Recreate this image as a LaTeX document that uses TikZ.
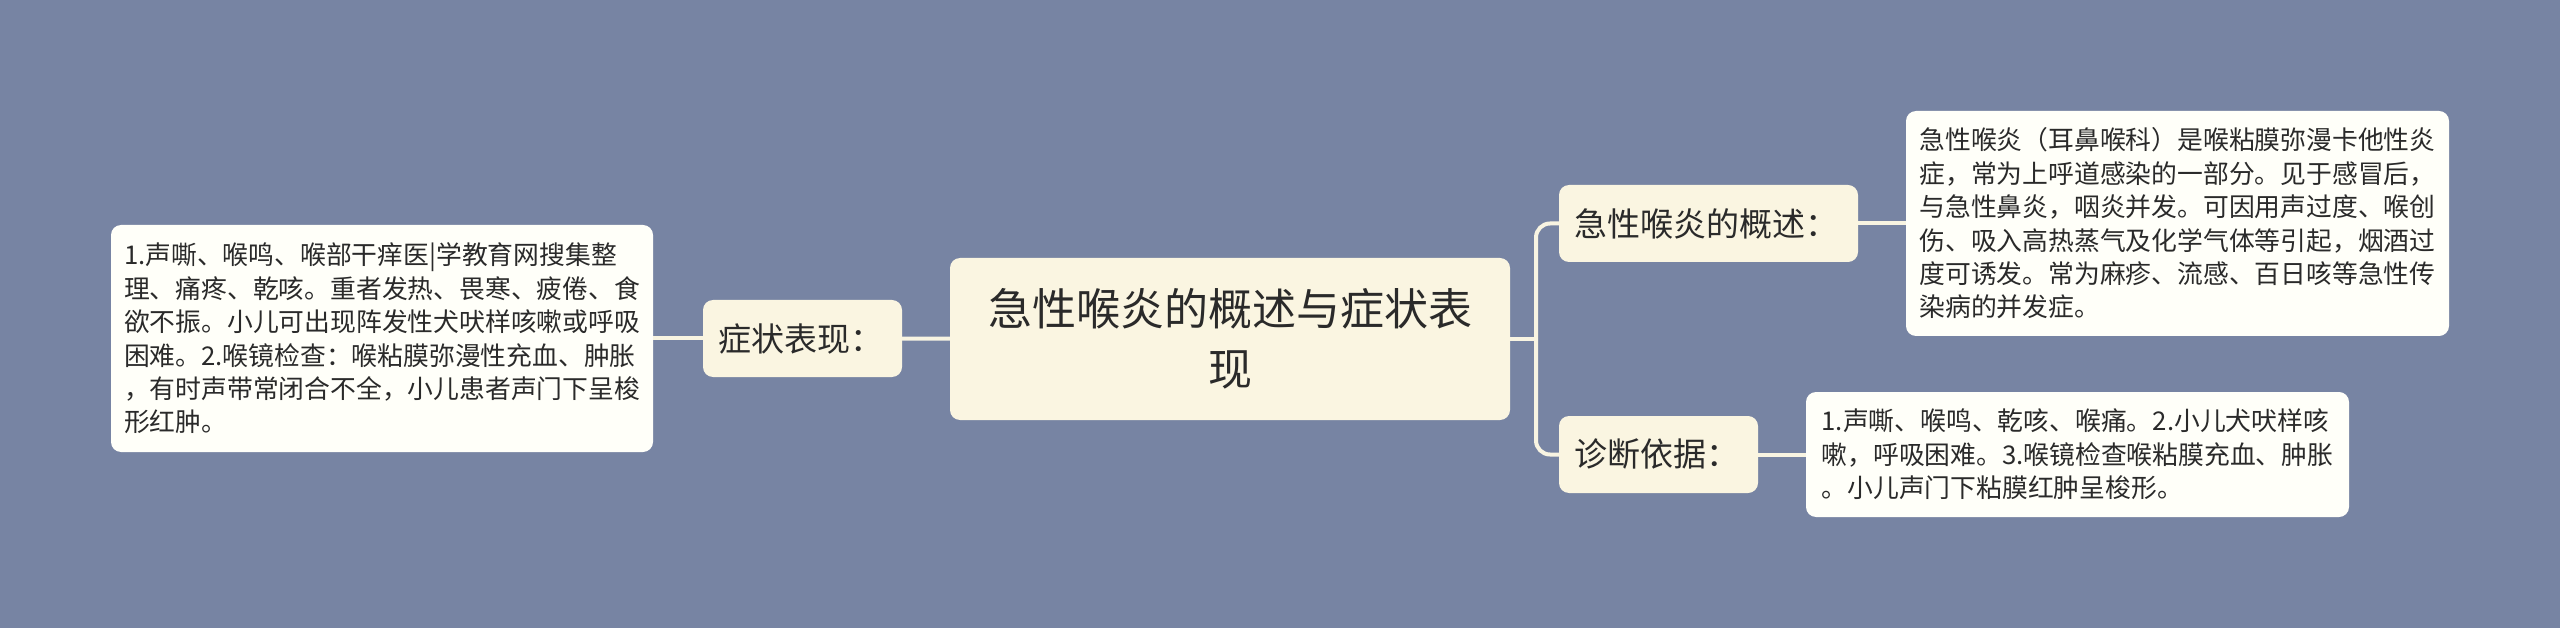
\documentclass[tikz,border=0pt]{standalone}
\usepackage{fontspec}
\setmainfont{Noto Sans CJK SC}
\usepackage{tikz}
\usetikzlibrary{positioning}
\definecolor{bgblue}{HTML}{7784A3}
\definecolor{cream}{HTML}{FAF5E1}
\definecolor{paper}{HTML}{FFFFF9}
\definecolor{ink}{HTML}{2A2A2A}
\definecolor{wire}{HTML}{F8F4E2}
\tikzset{
	x=1pt, y=-1pt,
	root/.style ={rectangle, rounded corners=10pt, fill=cream, text=ink, align=center, minimum width=560pt, minimum height=162pt, font=\fontsize{44}{60}\selectfont},
	topic/.style ={rectangle, rounded corners=10pt, fill=cream, text=ink, align=left, inner xsep=15pt, minimum height=77pt, font=\fontsize{33}{38}\selectfont},
	leaf/.style ={rectangle, rounded corners=10pt, fill=paper, text=ink, align=left, inner sep=0pt, font=\fontsize{25.8}{33.4}\selectfont},
	link/.style = {draw=wire, line width=4pt}
}

\begin{document}
\begin{tikzpicture}
	\fill[bgblue] (0, 0) rectangle (2560, 628);
	\useasboundingbox (0, 0) rectangle (2560, 628);
	
	\node[root] (root) at (1230, 339) {急性喉炎的概述与症状表\\现};
	\node[topic, text width=169pt] (zz) at (802.5, 338.5) {症状表现：};
	\node[topic, text width=269pt] (gs) at (1708.5, 223.5) {急性喉炎的概述：};
	\node[topic, text width=169pt] (zd) at (1658.5, 454.5) {诊断依据：};
	
	\node[leaf, minimum width=542pt, minimum height=227pt] (zzt) at (382, 338.5) {1.声嘶、喉鸣、喉部干痒医|学教育网搜集整\\理、痛疼、乾咳。重者发热、畏寒、疲倦、食\\欲不振。小儿可出现阵发性犬吠样咳嗽或呼吸\\困难。2.喉镜检查：喉粘膜弥漫性充血、肿胀\\，有时声带常闭合不全，小儿患者声门下呈梭\\形红肿。};
	\node[leaf, minimum width=543pt, minimum height=225pt] (gst) at (2177.5, 223.5) {急性喉炎（耳鼻喉科）是喉粘膜弥漫卡他性炎\\症，常为上呼道感染的一部分。见于感冒后，\\与急性鼻炎，咽炎并发。可因用声过度、喉创\\伤、吸入高热蒸气及化学气体等引起，烟酒过\\度可诱发。常为麻疹、流感、百日咳等急性传\\染病的并发症。};
	\node[leaf, minimum width=543pt, minimum height=125pt] (zdt) at (2077.5, 454.5) {1.声嘶、喉鸣、乾咳、喉痛。2.小儿犬吠样咳\\嗽，呼吸困难。3.喉镜检查喉粘膜充血、肿胀\\。小儿声门下粘膜红肿呈梭形。};
	
	% Branches
	\coordinate (fork) at (1536, 339);
	\path (root) edge[link] (zz);
	\path (zz) edge[link] (zzt);
	\draw[link] (root) -- (fork);
	\draw[link, rounded corners=14pt] (fork) |- (gs);
	\draw[link, rounded corners=14pt] (fork) |- (zd);
	\path (gs) edge[link] (gst);
	\path (zd) edge[link] (zdt);
\end{tikzpicture}
\end{document}
